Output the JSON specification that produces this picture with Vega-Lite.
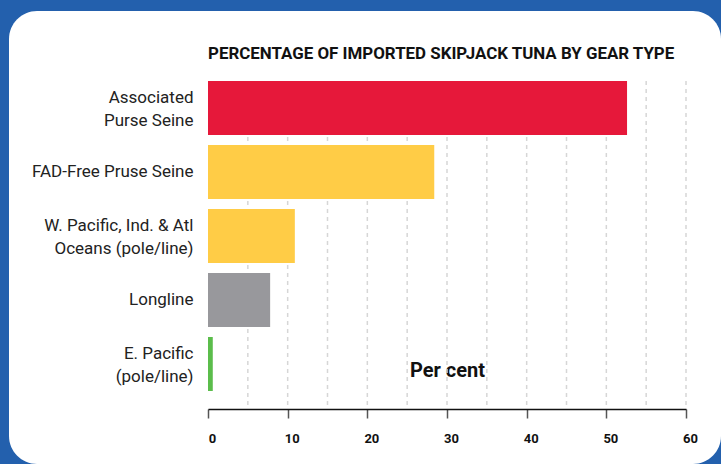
{
  "$schema": "https://vega.github.io/schema/vega-lite/v6.json",
  "autosize": {"type": "none"},
  "padding": {"left": 9, "top": 11, "right": 0, "bottom": 0},
  "width": 712,
  "height": 453,
  "background": "#2360ad",
  "config": {
    "view": {"fill": "#ffffff", "stroke": null, "cornerRadius": 28},
    "font": "Roboto",
    "axisX": {
      "grid": false,
      "offset": -55,
      "domainColor": "#111111",
      "domainWidth": 1.5,
      "tickColor": "#555555",
      "tickWidth": 1.5,
      "tickSize": 9,
      "labelFont": "Roboto",
      "labelFontSize": 13,
      "labelFontWeight": "bold",
      "labelColor": "#111111",
      "labelPadding": 14,
      "labelBaseline": "top",
      "labelFlush": false,
      "labelOverlap": false,
      "labelOffset": 4,
      "titleX": 438,
      "titleY": -33,
      "titleBaseline": "alphabetic",
      "titleAlign": "center",
      "titleFont": "Roboto",
      "titleFontSize": 20,
      "titleFontWeight": "bold",
      "titleColor": "#111111"
    }
  },
  "title": {
    "text": "PERCENTAGE OF IMPORTED SKIPJACK TUNA BY GEAR TYPE",
    "anchor": "start",
    "frame": "group",
    "dx": 199,
    "offset": -65,
    "baseline": "alphabetic",
    "font": "Roboto",
    "fontSize": 16.9,
    "fontWeight": "bold",
    "color": "#111111"
  },
  "datasets": {
    "tuna": [
      {"gear": "Associated Purse Seine", "value": 52.6},
      {"gear": "FAD-Free Pruse Seine", "value": 28.4},
      {"gear": "W. Pacific, Ind. & Atl Oceans (pole/line)", "value": 10.9},
      {"gear": "Longline", "value": 7.8},
      {"gear": "E. Pacific (pole/line)", "value": 0.6}
    ],
    "grid": [
      {"g": 5}, {"g": 10}, {"g": 15}, {"g": 20}, {"g": 25}, {"g": 30},
      {"g": 35}, {"g": 40}, {"g": 45}, {"g": 50}, {"g": 55}, {"g": 60}
    ]
  },
  "layer": [
    {
      "data": {"name": "grid"},
      "mark": {"type": "rule", "color": "#d6d6d6", "strokeWidth": 1.5, "strokeDash": [4, 4], "y2Offset": 16},
      "encoding": {
        "x": {"field": "g", "type": "quantitative", "title": "Per cent", "axis": {"values": [0, 10, 20, 30, 40, 50, 60]}},
        "y": {"datum": "Associated Purse Seine", "type": "nominal", "bandPosition": 0},
        "y2": {"datum": "E. Pacific (pole/line)", "bandPosition": 1}
      }
    },
    {
      "data": {"name": "tuna"},
      "mark": {"type": "bar"},
      "encoding": {
        "x": {
          "field": "value",
          "type": "quantitative",
          "title": "Per cent",
          "axis": {"values": [0, 10, 20, 30, 40, 50, 60]},
          "scale": {"domain": [0, 60], "range": [199, 677], "nice": false, "zero": true}
        },
        "y": {
          "field": "gear",
          "type": "nominal",
          "scale": {
            "domain": ["Associated Purse Seine", "FAD-Free Pruse Seine", "W. Pacific, Ind. & Atl Oceans (pole/line)", "Longline", "E. Pacific (pole/line)"],
            "range": [70, 380],
            "paddingInner": 0.15625,
            "paddingOuter": 0
          },
          "axis": {
            "title": null,
            "domain": false,
            "ticks": false,
            "tickSize": 0,
            "offset": -184,
            "labelPadding": 0,
            "labelFont": "Roboto",
            "labelFontSize": 17,
            "labelColor": "#222222",
            "labelLineHeight": 23,
            "labelLimit": 400,
            "labelOffset": {"condition": {"test": "datum.value != 'FAD-Free Pruse Seine' && datum.value != 'Longline'", "value": -10}, "value": 0},
            "labelExpr": "datum.value == 'Associated Purse Seine' ? ['Associated', 'Purse Seine'] : datum.value == 'W. Pacific, Ind. & Atl Oceans (pole/line)' ? ['W. Pacific, Ind. & Atl', 'Oceans (pole/line)'] : datum.value == 'E. Pacific (pole/line)' ? ['E. Pacific', '(pole/line)'] : datum.label"
          }
        },
        "color": {
          "field": "gear",
          "type": "nominal",
          "scale": {
            "domain": ["Associated Purse Seine", "FAD-Free Pruse Seine", "W. Pacific, Ind. & Atl Oceans (pole/line)", "Longline", "E. Pacific (pole/line)"],
            "range": ["#e6183a", "#ffcc46", "#ffcc46", "#98989c", "#5bbd4b"]
          },
          "legend": null
        }
      }
    }
  ]
}
